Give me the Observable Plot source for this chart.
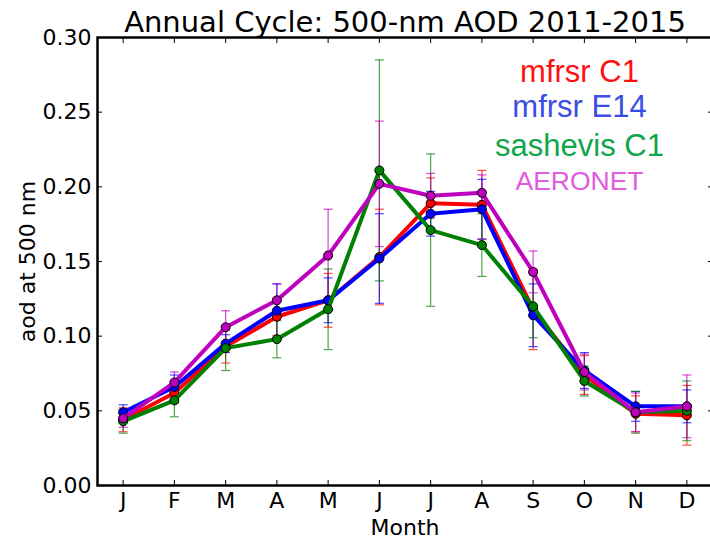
<!DOCTYPE html>
<html>
<head>
<meta charset="utf-8">
<script src="https://cdn.jsdelivr.net/npm/d3@7"></script>
<script src="https://cdn.jsdelivr.net/npm/@observablehq/plot@0.6"></script>
<style>
  html, body { margin: 0; padding: 0; background: #fff; }
  #chart svg { display: block; }
</style>
</head>
<body>
<div id="chart"></div>
<script>
// Monthly mean 500-nm aerosol optical depth, 2011-2015, with standard deviations
const monthLabels = ["J", "F", "M", "A", "M", "J", "J", "A", "S", "O", "N", "D"];
const monthNumbers = [1, 2, 3, 4, 5, 6, 7, 8, 9, 10, 11, 12];

const mfrsrC1 = [0.044, 0.062, 0.093, 0.113, 0.124, 0.153, 0.189, 0.188, 0.118, 0.074, 0.048, 0.047];
const mfrsrC1Err = [0.008, 0.007, 0.011, 0.0125, 0.018, 0.032, 0.017, 0.023, 0.027, 0.013, 0.012, 0.020];

const mfrsrE14 = [0.049, 0.066, 0.095, 0.117, 0.124, 0.152, 0.182, 0.185, 0.114, 0.077, 0.053, 0.053];
const mfrsrE14Err = [0.005, 0.008, 0.006, 0.018, 0.015, 0.030, 0.015, 0.020, 0.021, 0.012, 0.010, 0.011];

const sashevisC1 = [0.043, 0.057, 0.092, 0.098, 0.118, 0.211, 0.171, 0.161, 0.120, 0.070, 0.049, 0.050];
const sashevisC1Err = [0.008, 0.011, 0.015, 0.0125, 0.027, 0.074, 0.051, 0.021, 0.021, 0.010, 0.014, 0.020];

const aeronet = [0.045, 0.069, 0.106, 0.124, 0.154, 0.202, 0.194, 0.196, 0.143, 0.076, 0.049, 0.053];
const aeronetErr = [0.006, 0.007, 0.011, 0.011, 0.031, 0.042, 0.015, 0.012, 0.014, 0.012, 0.013, 0.021];

const seriesNames = ["mfrsr C1", "mfrsr E14", "sashevis C1", "AERONET"];
const seriesValues = [mfrsrC1, mfrsrE14, sashevisC1, aeronet];
const seriesErrors = [mfrsrC1Err, mfrsrE14Err, sashevisC1Err, aeronetErr];
const lineColors = ["#ff0000", "#0000ff", "#008000", "#bf00bf"];
const labelColors = ["#ff1010", "#3a4de6", "#10a64c", "#e05be0"];

const yTicks = [0, 0.05, 0.10, 0.15, 0.20, 0.25, 0.30];
const titleText = "Annual Cycle: 500-nm AOD 2011-2015";
const xLabel = "Month";
const yLabel = "aod at 500 nm";

// long-format table: one row per series and month
const rows = [];
seriesNames.forEach((name, s) => {
  seriesValues[s].forEach((v, i) => {
    rows.push({series: name, month: monthNumbers[i], aod: v, err: seriesErrors[s][i]});
  });
});

// horizontal cap for error bars, half-width taken from the dot radius
const capSymbol = {
  draw(context, size) {
    const w = Math.sqrt(size / Math.PI);
    context.moveTo(-w, 0);
    context.lineTo(w, 0);
  }
};

const tickFont = 22;
const legendLayout = [
  {size: 31, dy: 35},
  {size: 31, dy: 70},
  {size: 31, dy: 109},
  {size: 26.5, dy: 144.5}
];

const marks = [
  // error bars
  Plot.ruleX(rows, {x: "month", y1: d => d.aod - d.err, y2: d => d.aod + d.err,
    stroke: "series", strokeWidth: 1.2, strokeOpacity: 0.7}),
  Plot.dot(rows, {x: "month", y: d => d.aod - d.err, symbol: capSymbol, r: 4.5,
    stroke: "series", fill: "none", strokeWidth: 1.2, strokeOpacity: 0.7}),
  Plot.dot(rows, {x: "month", y: d => d.aod + d.err, symbol: capSymbol, r: 4.5,
    stroke: "series", fill: "none", strokeWidth: 1.2, strokeOpacity: 0.7}),
  // one line with markers per series, in draw order
  ...seriesNames.flatMap(name => {
    const data = rows.filter(d => d.series === name);
    return [
      Plot.line(data, {x: "month", y: "aod", stroke: "series", strokeWidth: 4, strokeLinejoin: "round"}),
      Plot.dot(data, {x: "month", y: "aod", fill: "series", stroke: "black", strokeWidth: 1, r: 4.5})
    ];
  }),
  // inward ticks on all four sides
  Plot.axisX({anchor: "bottom", ticks: monthNumbers, tickSize: 5, dy: -5, tickFormat: () => "", label: null, strokeWidth: 1}),
  Plot.axisX({anchor: "top", ticks: monthNumbers, tickSize: 5, dy: 5, tickFormat: () => "", label: null, strokeWidth: 1}),
  Plot.axisY({anchor: "left", ticks: yTicks, tickSize: 5, dx: 5, tickFormat: () => "", label: null, strokeWidth: 1}),
  Plot.axisY({anchor: "right", ticks: yTicks, tickSize: 5, dx: -5, tickFormat: () => "", label: null, strokeWidth: 1}),
  // tick labels
  Plot.axisX({anchor: "bottom", ticks: monthNumbers, tickSize: 0, tickPadding: 7,
    tickFormat: m => monthLabels[m - 1], label: null, fontSize: tickFont, fill: "black"}),
  Plot.axisY({anchor: "left", ticks: yTicks, tickSize: 0, tickPadding: 6,
    tickFormat: d3.format(".2f"), label: null, fontSize: tickFont, fill: "black"}),
  Plot.frame({stroke: "black", strokeWidth: 2.5}),
  // titles
  Plot.text([titleText], {frameAnchor: "top", dy: -15, lineAnchor: "middle", fontSize: 29, fill: "black"}),
  Plot.text([xLabel], {frameAnchor: "bottom", dy: 42, lineAnchor: "middle", fontSize: tickFont, fill: "black"}),
  Plot.text([yLabel], {frameAnchor: "left", dx: -70, rotate: -90, textAnchor: "middle", lineAnchor: "middle",
    fontSize: tickFont, fill: "black"}),
  // series labels
  ...seriesNames.map((name, i) => Plot.text([name], {
    frameAnchor: "top", dx: 174.5, dy: legendLayout[i].dy, lineAnchor: "middle",
    fontSize: legendLayout[i].size, fontFamily: "Liberation Sans", fill: labelColors[i]
  }))
];

const chart = Plot.plot({
  width: 710,
  height: 539,
  marginLeft: 97,
  marginRight: -2,
  marginTop: 37,
  marginBottom: 54,
  x: {domain: [0.5, 12.5]},
  y: {domain: [0, 0.30]},
  color: {domain: seriesNames, range: lineColors},
  style: {fontFamily: "DejaVu Sans", background: "white", color: "black", overflow: "visible"},
  marks
});

document.getElementById("chart").appendChild(chart);
</script>
</body>
</html>
